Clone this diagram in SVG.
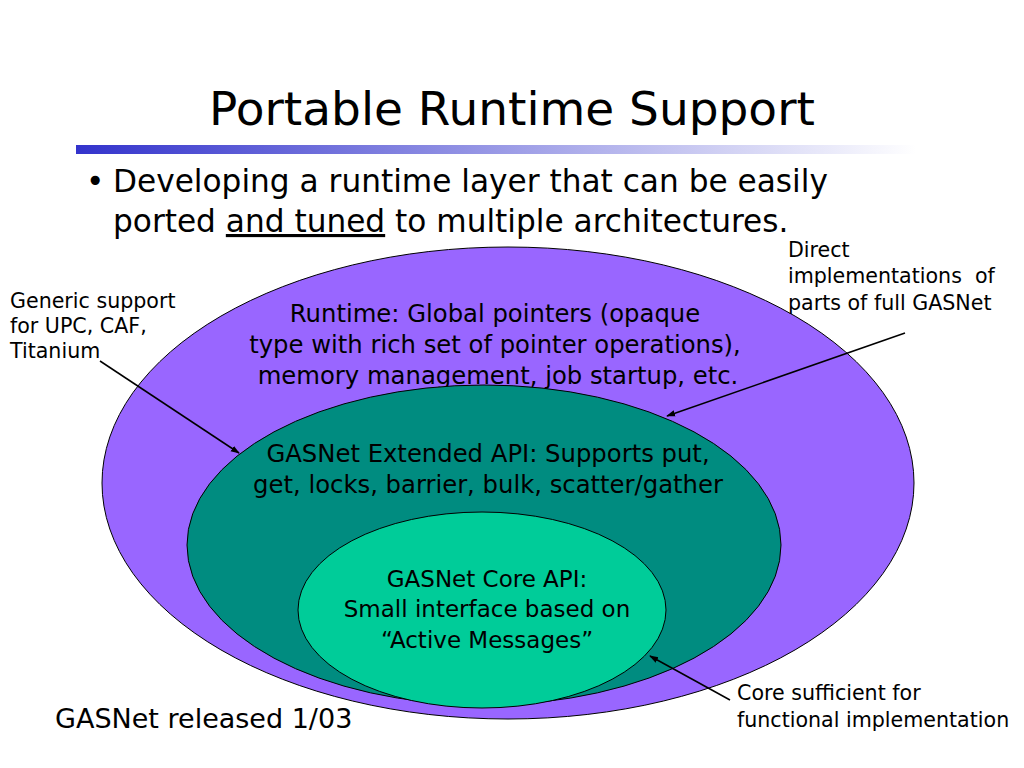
<svg xmlns="http://www.w3.org/2000/svg" width="1024" height="768" viewBox="0 0 1024 768">
<defs>
<linearGradient id="bar" x1="0" y1="0" x2="1" y2="0">
<stop offset="0" stop-color="#3333CC"/>
<stop offset="1" stop-color="#FFFFFF"/>
</linearGradient>
<marker id="ah" viewBox="0 0 10 10" refX="9" refY="5" markerWidth="9" markerHeight="9" orient="auto" markerUnits="userSpaceOnUse">
<path d="M0,1.5 L10,5 L0,8.5 z" fill="#000"/>
</marker>
</defs>
<style>
text{font-family:"DejaVu Sans","Liberation Sans",sans-serif;fill:#000}
.title{font-size:47px}
.bul{font-size:31.2px}
.lbl{font-size:20.6px}
.in{font-size:24.3px;text-anchor:middle}
.cr{font-size:23px;text-anchor:middle}
.ell{stroke:#000;stroke-width:1}
.con{stroke:#000;stroke-width:1.5;fill:none;marker-end:url(#ah)}
</style>
<rect width="1024" height="768" fill="#fff"/>
<text class="title" x="512" y="125" text-anchor="middle">Portable Runtime Support</text>
<rect x="76" y="145" width="840" height="9" fill="url(#bar)"/>
<text class="bul" x="86" y="192">•</text>
<text class="bul" x="113" y="192">Developing a runtime layer that can be easily</text>
<text class="bul" x="113" y="232">ported <tspan text-decoration="underline">and tuned</tspan> to multiple architectures.</text>

<g id="runtime">
<ellipse class="ell" cx="508" cy="483" rx="406" ry="236" fill="#9966FF"/>
<text class="in" x="495" y="322">Runtime: Global pointers (opaque</text>
<text class="in" x="495" y="353">type with rich set of pointer operations),</text>
<text class="in" x="498" y="384">memory management, job startup, etc.</text>
</g>
<g id="extended">
<ellipse class="ell" cx="484" cy="545" rx="297" ry="160" fill="#008C80"/>
<text class="in" x="488" y="462">GASNet Extended API: Supports put,</text>
<text class="in" x="488" y="493">get, locks, barrier, bulk, scatter/gather</text>
</g>
<g id="core">
<ellipse class="ell" cx="482" cy="610" rx="184" ry="98" fill="#00CC99"/>
<text class="cr" x="487" y="587">GASNet Core API:</text>
<text class="cr" x="487" y="617">Small interface based on</text>
<text class="cr" x="487" y="648">“Active Messages”</text>
</g>

<g id="label-generic">
<text class="lbl" x="10" y="308">Generic support</text>
<text class="lbl" x="10" y="333">for UPC, CAF,</text>
<text class="lbl" x="10" y="358">Titanium</text>
</g>
<g id="label-direct">
<text class="lbl" x="788" y="257">Direct</text>
<text class="lbl" x="788" y="283" xml:space="preserve">implementations  of</text>
<text class="lbl" x="788" y="310">parts of full GASNet</text>
</g>
<g id="label-core">
<text class="lbl" x="737" y="700">Core sufficient for</text>
<text class="lbl" x="737" y="727">functional implementation</text>
</g>
<text x="55" y="728" style="font-size:27px">GASNet released 1/03</text>

<g id="connectors">
<line class="con" x1="100" y1="361" x2="239" y2="453"/>
<line class="con" x1="905" y1="333" x2="667" y2="416"/>
<line class="con" x1="730" y1="700" x2="650" y2="656"/>
</g>
</svg>
